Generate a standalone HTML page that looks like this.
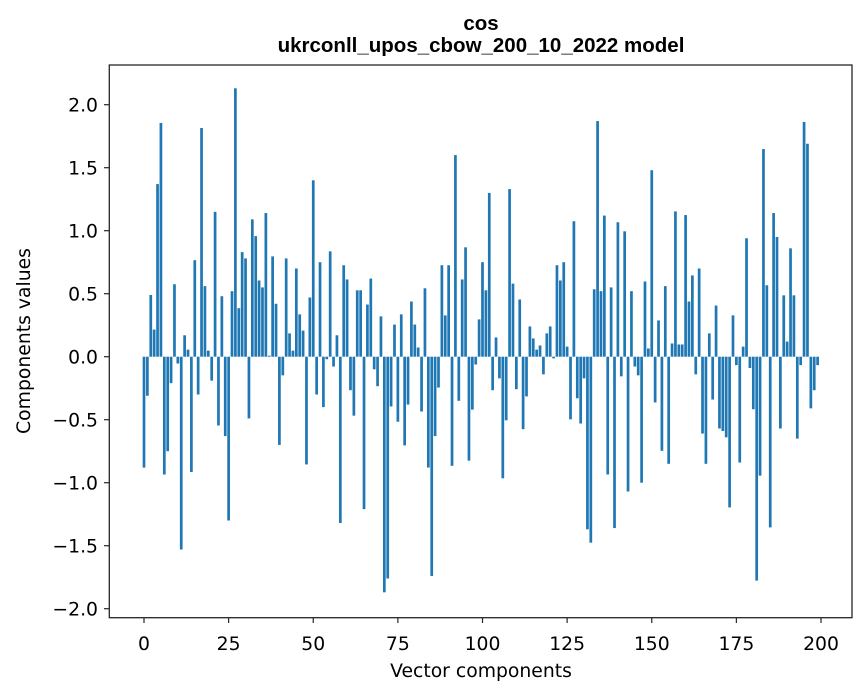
<!DOCTYPE html>
<html><head><meta charset="utf-8"><style>
html,body{margin:0;padding:0;background:#fff;}
svg{display:block;font-family:"DejaVu Sans","Liberation Sans",sans-serif;}
</style></head><body>
<svg id="chart" width="867" height="696" viewBox="0 0 867 696" xmlns="http://www.w3.org/2000/svg">
<rect x="0" y="0" width="867" height="696" fill="#fff"/>
<text x="481" y="30" text-anchor="middle" font-size="20.5" font-weight="bold" font-family="Liberation Sans, sans-serif">cos</text>
<text x="481" y="52" text-anchor="middle" font-size="20.5" font-weight="bold" font-family="Liberation Sans, sans-serif">ukrconll_upos_cbow_200_10_2022 model</text>
<g id="bars"></g>
<g id="xticks"></g>
<g id="yticks"></g>
<rect x="109.3" y="65" width="742.7" height="552.7" fill="none" stroke="#262626" stroke-width="1.3"/>
<text x="481" y="677" text-anchor="middle" font-size="18.8">Vector components</text>
<text transform="translate(30,341) rotate(-90)" text-anchor="middle" font-size="18.8">Components values</text>
</svg>
<script>
const values = [-0.88,-0.31,0.49,0.215,1.37,1.855,-0.935,-0.75,-0.21,0.575,
-0.054,-1.53,0.17,0.056,-0.915,0.766,-0.30,1.815,0.56,0.048,
-0.19,1.15,-0.546,0.48,-0.63,-1.30,0.52,2.13,0.385,0.83,
0.78,-0.49,1.09,0.957,0.605,0.55,1.14,0.008,0.796,0.42,
-0.70,-0.148,0.78,0.185,0.048,0.70,0.336,0.207,-0.855,0.47,
1.40,-0.30,0.75,-0.40,-0.02,0.836,-0.078,0.17,-1.32,0.726,
0.613,-0.266,-0.468,0.527,0.527,-1.21,0.414,0.62,-0.10,-0.234,
0.32,-1.87,-1.76,-0.395,0.255,-0.516,0.336,-0.704,-0.38,0.438,
0.255,0.073,-0.435,0.543,-0.88,-1.74,-0.63,-0.245,0.726,0.328,
0.726,-0.866,1.60,-0.35,0.613,0.868,-0.825,-0.42,-0.062,0.296,
0.75,0.527,1.30,-0.266,0.153,-0.172,-0.965,-0.505,1.33,0.58,
-0.258,0.454,-0.575,-0.315,0.24,0.145,0.056,0.089,-0.14,0.185,
0.24,-0.013,0.726,0.605,0.75,0.08,-0.497,1.075,-0.33,-0.53,
-0.172,-1.37,-1.476,0.535,1.87,0.52,1.12,-0.935,0.55,-1.36,
1.067,-0.156,0.995,-1.07,0.52,-0.078,-0.148,-1.0,0.597,0.065,
1.48,-0.363,0.288,-0.747,0.56,-0.85,0.105,1.153,0.097,0.097,
1.124,0.438,0.645,-0.14,0.70,-0.61,-0.85,0.185,-0.34,0.406,
-0.57,-0.59,-0.64,-1.196,0.328,-0.067,-0.84,0.08,0.94,-0.09,
-0.417,-1.777,-0.944,1.648,0.567,-1.355,1.14,0.95,-0.57,0.487,
0.12,0.86,0.487,-0.65,-0.067,1.863,1.69,-0.41,-0.266,-0.067];
const xTickLabels = [0,25,50,75,100,125,150,175,200];
const yTickLabels = [-2.0,-1.5,-1.0,-0.5,0.0,0.5,1.0,1.5,2.0];

const NS = "http://www.w3.org/2000/svg";
const X0 = 144, XPU = 3.385;
const Y0 = 356.7, YPU = 126;
function xs(v){ return X0 + v*XPU; }
function ys(v){ return Y0 - v*YPU; }

const bars = document.getElementById('bars');
values.forEach((v,i)=>{
  const r = document.createElementNS(NS,'rect');
  const w = 0.8*XPU;
  r.setAttribute('x', xs(i)-w/2);
  r.setAttribute('width', w);
  r.setAttribute('y', Math.min(ys(v), ys(0)));
  r.setAttribute('height', Math.abs(ys(v)-ys(0)));
  r.setAttribute('fill', '#1f77b4');
  
  
  bars.appendChild(r);
});

const xt = document.getElementById('xticks');
xTickLabels.forEach(t=>{
  const l = document.createElementNS(NS,'line');
  l.setAttribute('x1', xs(t)); l.setAttribute('x2', xs(t));
  l.setAttribute('y1', 617.7); l.setAttribute('y2', 623);
  l.setAttribute('stroke', '#262626'); l.setAttribute('stroke-width', '1.2');
  
  
  xt.appendChild(l);
  const tx = document.createElementNS(NS,'text');
  tx.setAttribute('x', xs(t)); tx.setAttribute('y', 650);
  tx.setAttribute('text-anchor', 'middle'); tx.setAttribute('font-size', '18.8');
  tx.textContent = String(t);
  
  
  xt.appendChild(tx);
});

const yt = document.getElementById('yticks');
yTickLabels.forEach(t=>{
  const l = document.createElementNS(NS,'line');
  l.setAttribute('x1', 104); l.setAttribute('x2', 109.3);
  l.setAttribute('y1', ys(t)); l.setAttribute('y2', ys(t));
  l.setAttribute('stroke', '#262626'); l.setAttribute('stroke-width', '1.2');
  
  
  yt.appendChild(l);
  const tx = document.createElementNS(NS,'text');
  tx.setAttribute('x', 98); tx.setAttribute('y', ys(t)+7);
  tx.setAttribute('text-anchor', 'end'); tx.setAttribute('font-size', '18.8');
  tx.textContent = (t<0?'\u2212':'') + Math.abs(t).toFixed(1);
  
  
  yt.appendChild(tx);
});
</script>
</body></html>
